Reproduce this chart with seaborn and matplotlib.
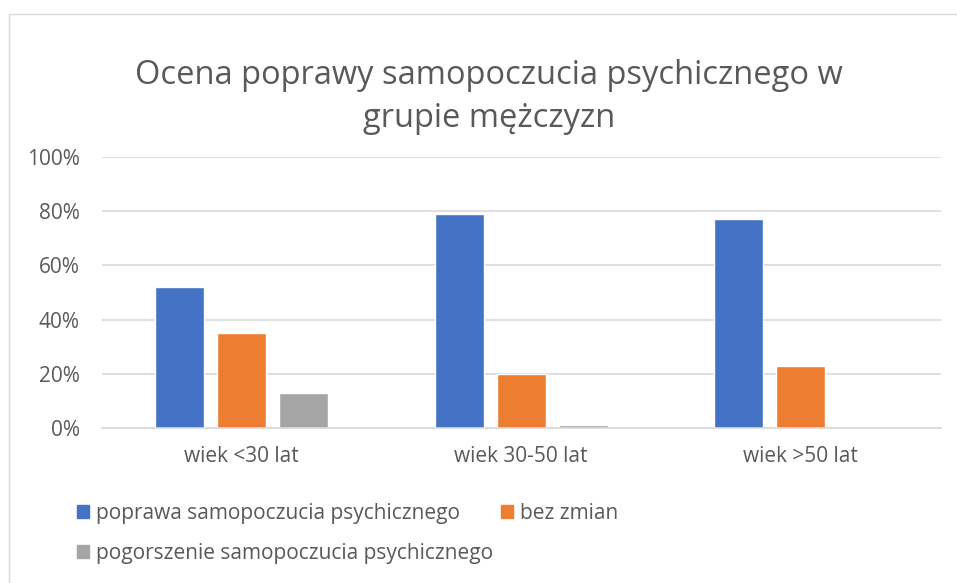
import pandas as pd
import matplotlib.pyplot as plt
import matplotlib.patches as mpatches
import seaborn as sns

# Data (percent)
groups = ['wiek <30 lat', 'wiek 30-50 lat', 'wiek >50 lat']
series = ['poprawa samopoczucia psychicznego', 'bez zmian', 'pogorszenie samopoczucia psychicznego']
poprawa = [52, 79, 77]
bez_zmian = [35, 20, 23]
pogorszenie = [13, 1, 0]
colors = ['#4472C4', '#ED7D31', '#A5A5A5']

df = pd.DataFrame({
    'grupa': groups * 3,
    'seria': [s for s in series for _ in groups],
    'wartosc': [v / 100 for v in poprawa + bez_zmian + pogorszenie],
})

sns.set_style('white')
plt.rcParams['font.family'] = ['Open Sans', 'DejaVu Sans']
text_color = '#595959'

fig = plt.figure(figsize=(9.57, 5.83), dpi=100)
W, H = 957, 583
ax = fig.add_axes([102 / W, 1 - 428 / H, (940.5 - 102) / W, (428 - 157) / H])

sns.barplot(data=df, x='grupa', y='wartosc', hue='seria', palette=colors,
            width=0.665, gap=0.21, ax=ax, legend=False, saturation=1)

ax.set_ylim(0, 1)
ax.set_xlim(-0.5, 2.5)
ax.set_yticks([0, 0.2, 0.4, 0.6, 0.8, 1.0])
ax.set_yticklabels(['0%', '20%', '40%', '60%', '80%', '100%'])
ax.yaxis.grid(True, color='#D9D9D9', linewidth=1.2)
ax.set_axisbelow(True)
for s in ['top', 'right', 'left']:
    ax.spines[s].set_visible(False)
ax.spines['bottom'].set_color('#D9D9D9')
ax.spines['bottom'].set_linewidth(1.2)
ax.tick_params(axis='both', length=0, labelsize=15, labelcolor=text_color)
ax.tick_params(axis='y', pad=16)
ax.tick_params(axis='x', pad=13)
ax.set_xlabel('')
ax.set_ylabel('')

fig.text(489 / W, 1 - 97 / H, 'Ocena poprawy samopoczucia psychicznego w\ngrupie mężczyzn',
         ha='center', va='center', fontsize=23.5, color=text_color, linespacing=1.38)

handles = [mpatches.Patch(color=c) for c in colors]
order = [0, 2, 1]
fig.legend([handles[i] for i in order], [series[i] for i in order],
           loc='upper left', bbox_to_anchor=(58 / W, 1 - 484 / H), ncol=2,
           frameon=False, fontsize=15, labelcolor=text_color,
           handlelength=0.6, handleheight=0.6, handletextpad=0.3,
           columnspacing=0.4, labelspacing=0.9)

fig.patches.append(mpatches.Rectangle((9 / W, -0.05), 1.0, 1 - 14 / H + 0.05,
                                      transform=fig.transFigure, fill=False,
                                      edgecolor='#D9D9D9', linewidth=1))

fig.savefig('out.png', dpi=100)
